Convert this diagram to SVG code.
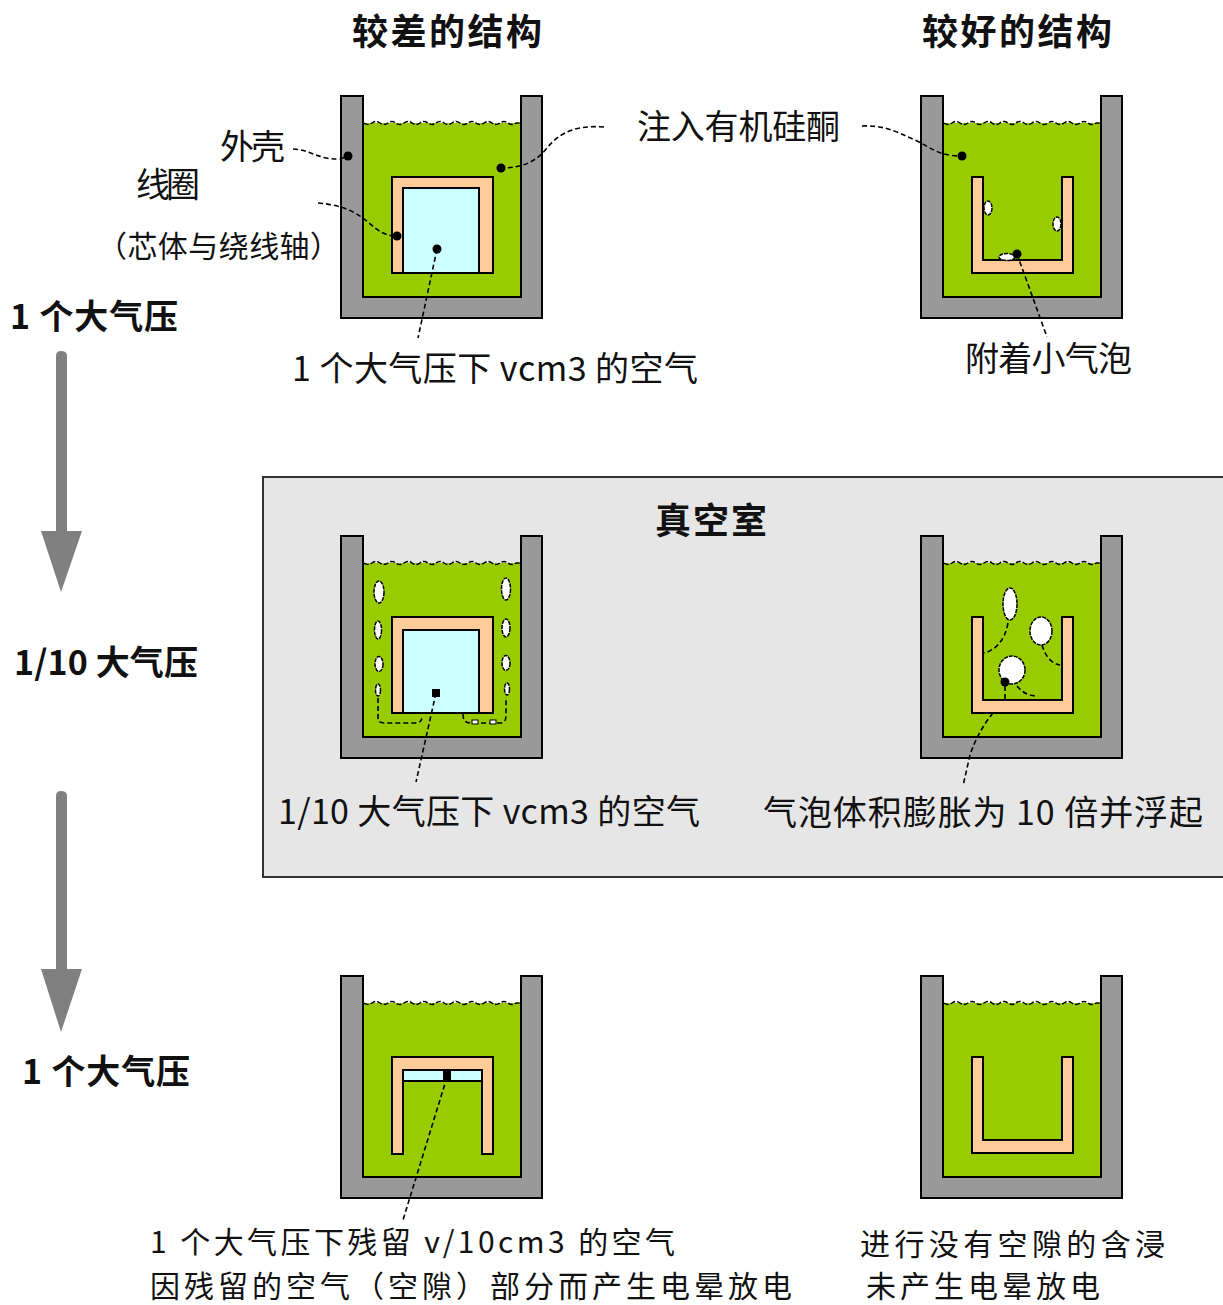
<svg xmlns="http://www.w3.org/2000/svg" xmlns:xlink="http://www.w3.org/1999/xlink" width="1223" height="1305" viewBox="0 0 1223 1305">
  <style>
    text { font-family: "Noto Sans CJK SC", "Noto Sans", sans-serif; font-size: 34px; fill: #111; }
    .title { font-size: 36px; font-weight: bold; }
    .bold { font-weight: bold; }
    .small { font-size: 30px; }
    .note { font-size: 30px; }
    .shell { fill: #999999; stroke: #000; stroke-width: 2; stroke-linejoin: miter; }
    .liquid { fill: #99cc00; }
    .surface { fill: none; stroke: #000; stroke-width: 1.5; stroke-dasharray: 5 2; }
    .coil { fill: #ffcc99; stroke: #000; stroke-width: 2; }
    .air { fill: #ccffff; stroke: #000; stroke-width: 2; }
    .bubble { fill: #fff; stroke: #000; stroke-width: 1.5; stroke-dasharray: 4 1; }
    .lead { fill: none; stroke: #000; stroke-width: 1.6; stroke-dasharray: 5 3; }
    .dot { fill: #000; }
    .arrow { fill: #808080; }
    .chamber { fill: #e6e6e6; stroke: #333; stroke-width: 2; }
  </style>
  <defs>
    <!-- tank: grey shell filled with silicone liquid -->
    <g id="tank">
      <rect class="liquid" x="363" y="123" width="158" height="174"/>
      <path class="surface" d="M364,123 q4,3 8,0 t8,0 t8,0 t8,0 t8,0 t8,0 t8,0 t8,0 t8,0 t8,0 t8,0 t8,0 t8,0 t8,0 t8,0 t8,0 t8,0 t8,0 t8,0 L521,123"/>
      <path class="shell" d="M341,96 H363 V297 H521 V96 H542 V318 H341 Z"/>
    </g>
    <!-- open-top U-shaped coil -->
    <path id="u-coil" class="coil" d="M392,177 H403 V260 H482 V177 H493 V273 H392 Z"/>
  </defs>

  <rect width="1223" height="1305" fill="#fff"/>

  <!-- vacuum chamber -->
  <g id="vacuum-chamber">
    <rect class="chamber" x="263" y="477" width="965" height="400"/>
    <text class="title" x="655" y="534" textLength="112" lengthAdjust="spacing">真空室</text>
  </g>

  <!-- pressure arrows -->
  <g id="pressure-arrows">
    <path class="arrow" d="M56,356 Q56,351 61,351 Q67,351 67,356 V531 H82 L61,592 L41,531 H56 Z"/>
    <path class="arrow" d="M56,796 Q56,791 61,791 Q67,791 67,796 V969 H82 L61,1032 L41,969 H56 Z"/>
  </g>

  <!-- row 1: 1 atm -->
  <g id="tank-poor-1">
    <use xlink:href="#tank"/>
    <rect class="coil" x="392" y="177" width="101" height="96"/>
    <rect class="air" x="403" y="188" width="76" height="85"/>
  </g>
  <g id="tank-good-1">
    <use xlink:href="#tank" transform="translate(580,0)"/>
    <use xlink:href="#u-coil" transform="translate(580,0)"/>
    <ellipse class="bubble" cx="988" cy="208" rx="4" ry="7"/>
    <ellipse class="bubble" cx="1057" cy="224" rx="4" ry="7"/>
    <ellipse class="bubble" cx="1007" cy="257" rx="8" ry="3.5"/>
  </g>

  <!-- row 2: 1/10 atm -->
  <g id="tank-poor-2">
    <use xlink:href="#tank" transform="translate(0,440)"/>
    <rect class="coil" x="392" y="617" width="101" height="96"/>
    <rect class="air" x="403" y="630" width="76" height="83"/>
    <ellipse class="bubble" cx="379" cy="592" rx="5" ry="11"/>
    <ellipse class="bubble" cx="378" cy="630" rx="3.5" ry="9"/>
    <ellipse class="bubble" cx="379" cy="664" rx="4" ry="7.5"/>
    <ellipse class="bubble" cx="378" cy="690" rx="2.5" ry="6"/>
    <ellipse class="bubble" cx="506" cy="589" rx="4.5" ry="11"/>
    <ellipse class="bubble" cx="506" cy="628" rx="4" ry="9"/>
    <ellipse class="bubble" cx="506" cy="663" rx="4" ry="7.5"/>
    <ellipse class="bubble" cx="507" cy="689" rx="2.5" ry="6"/>
    <path class="lead" d="M378,698 V718 Q378,723 384,723 H416 Q422,723 422,716"/>
    <path class="lead" d="M463,714 Q463,723 470,723 H500 Q506,723 506,716 V697"/>
    <rect x="472" y="720" width="6" height="4" fill="#fff" stroke="#000" stroke-width="1"/>
    <rect x="490" y="720" width="6" height="4" fill="#fff" stroke="#000" stroke-width="1"/>
  </g>
  <g id="tank-good-2">
    <use xlink:href="#tank" transform="translate(580,440)"/>
    <use xlink:href="#u-coil" transform="translate(580,440)"/>
    <ellipse class="bubble" cx="1010" cy="604" rx="7" ry="16"/>
    <ellipse class="bubble" cx="1041" cy="631" rx="11" ry="14"/>
    <ellipse class="bubble" cx="1012" cy="670" rx="13" ry="14"/>
    <circle class="dot" cx="1005" cy="682" r="4.5"/>
  </g>

  <!-- row 3: back to 1 atm -->
  <g id="tank-poor-3">
    <use xlink:href="#tank" transform="translate(0,880)"/>
    <path class="coil" d="M392,1057 H493 V1154 H482 V1070 H403 V1154 H392 Z"/>
    <rect class="air" x="403" y="1070" width="79" height="11"/>
  </g>
  <g id="tank-good-3">
    <use xlink:href="#tank" transform="translate(580,880)"/>
    <use xlink:href="#u-coil" transform="translate(580,880)"/>
  </g>

  <!-- leader lines -->
  <g id="connectors">
    <path class="lead" d="M293,149 C312,150 318,160 340,159 L348,156"/>
    <path class="lead" d="M318,203 C345,205 358,214 368,222 C378,231 385,236 397,236"/>
    <path class="lead" d="M604,127 C576,125 560,132 547,148 C536,162 522,168 501,168"/>
    <path class="lead" d="M862,126 C888,125 900,134 915,140 C932,148 938,156 962,156"/>
    <path class="lead" d="M437,249 L418,338"/>
    <path class="lead" d="M1017,254 L1047,337"/>
    <path class="lead" d="M436,693 L416,782"/>
    <path class="lead" d="M993,713 C983,725 975,740 970,755 L963,786"/>
    <path class="lead" d="M1008,623 C1005,640 996,650 984,653"/>
    <path class="lead" d="M1042,645 C1045,655 1050,663 1060,665"/>
    <path class="lead" d="M1005,686 V700"/>
    <path class="lead" d="M1017,686 C1022,692 1028,696 1038,696"/>
    <path class="lead" d="M447,1077 L403,1220"/>
    <circle class="dot" cx="348" cy="156" r="4.5"/>
    <circle class="dot" cx="397" cy="236" r="4.5"/>
    <circle class="dot" cx="501" cy="168" r="4.5"/>
    <circle class="dot" cx="962" cy="156" r="4.5"/>
    <circle class="dot" cx="437" cy="249" r="4.5"/>
    <circle class="dot" cx="1017" cy="254" r="4.5"/>
    <rect class="dot" x="432" y="689" width="8" height="8"/>
    <rect class="dot" x="443" y="1071" width="8" height="10"/>
  </g>

  <!-- labels -->
  <g id="labels">
    <text class="title" x="352" y="45" textLength="190" lengthAdjust="spacing">较差的结构</text>
    <text class="title" x="922" y="45" textLength="190" lengthAdjust="spacing">较好的结构</text>
    <text x="220" y="159" textLength="65" lengthAdjust="spacing">外壳</text>
    <text x="136" y="197" textLength="64" lengthAdjust="spacing">线圈</text>
    <text class="small" x="97" y="257" textLength="243" lengthAdjust="spacing">（芯体与绕线轴）</text>
    <text x="637" y="139" textLength="203" lengthAdjust="spacing">注入有机硅酮</text>
    <text class="bold" x="10" y="329" textLength="168" lengthAdjust="spacing">1 个大气压</text>
    <text x="292" y="381" textLength="406" lengthAdjust="spacing">1 个大气压下 vcm3 的空气</text>
    <text x="965" y="371" textLength="167" lengthAdjust="spacing">附着小气泡</text>
    <text class="bold" x="14" y="675" textLength="184" lengthAdjust="spacing">1/10 大气压</text>
    <text x="278" y="824" textLength="422" lengthAdjust="spacing">1/10 大气压下 vcm3 的空气</text>
    <text x="763" y="825" textLength="440" lengthAdjust="spacing">气泡体积膨胀为 10 倍并浮起</text>
    <text class="bold" x="22" y="1084" textLength="168" lengthAdjust="spacing">1 个大气压</text>
    <text class="note" x="150" y="1253" textLength="525" lengthAdjust="spacing">1 个大气压下残留 v/10cm3 的空气</text>
    <text class="note" x="150" y="1297" textLength="642" lengthAdjust="spacing">因残留的空气（空隙）部分而产生电晕放电</text>
    <text class="note" x="860" y="1255" textLength="305" lengthAdjust="spacing">进行没有空隙的含浸</text>
    <text class="note" x="866" y="1297" textLength="234" lengthAdjust="spacing">未产生电晕放电</text>
  </g>
</svg>
